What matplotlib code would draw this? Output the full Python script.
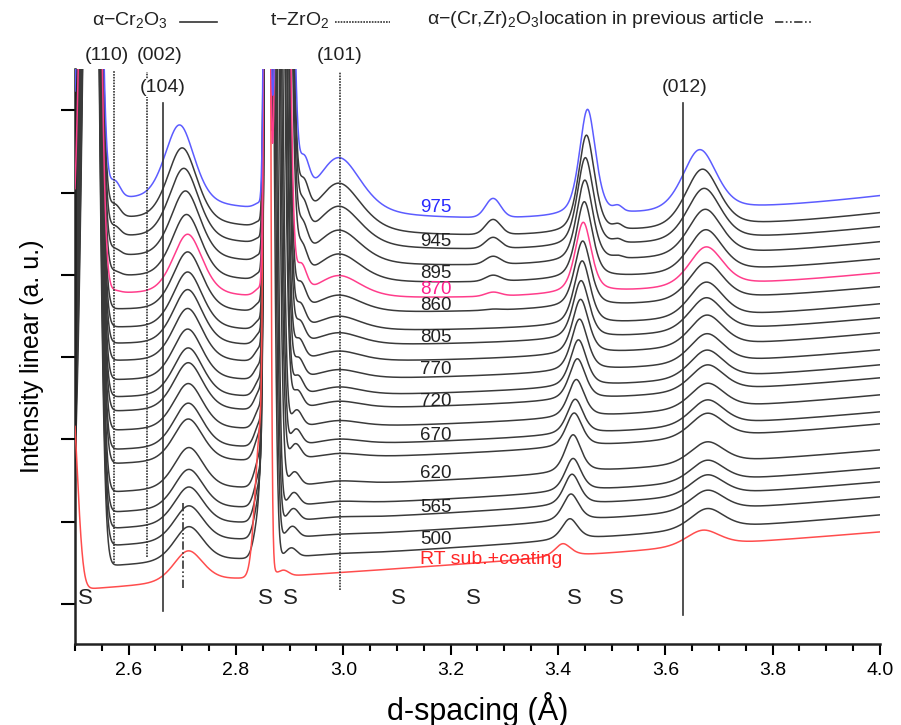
import numpy as np
import matplotlib.pyplot as plt
from matplotlib.lines import Line2D

plt.rcParams["font.family"] = ["Liberation Sans", "DejaVu Sans"]
plt.rcParams["mathtext.fontset"] = "custom"
plt.rcParams["mathtext.rm"] = "Liberation Sans"
plt.rcParams["mathtext.it"] = "Liberation Sans:italic"

# 22 scans, index 0 = RT (bottom) ... 21 = 975 C (top); intensity in a.u.
# baseline level read at d = 2.62, 3.20 and 4.00
base_v = [58, 79, 99, 116, 132, 152, 180, 194, 213, 232, 246, 263, 282, 299, 315, 333, 349, 366, 386, 405, 423, 442]
base_m = [79, 96, 115, 131, 145, 164, 190, 203, 220, 238, 251, 267, 284, 300, 314, 332, 346, 361, 378, 394, 408, 425]
base_r = [112, 129, 147, 162, 176, 194, 220, 232, 249, 266, 279, 294, 311, 326, 340, 357, 371, 385, 402, 417, 431, 448]

# substrate peaks
s1_pos = [2.493] + [2.532] * 21
s1_h = [200] + [1000] * 21
s2_pos = [2.858, 2.862, 2.864, 2.866, 2.868, 2.870, 2.872, 2.874, 2.876, 2.878, 2.879,
          2.881, 2.882, 2.884, 2.885, 2.886, 2.887, 2.888, 2.889, 2.890, 2.890, 2.891]
s2_wid = [0.004, 0.007, 0.007, 0.007, 0.007, 0.008, 0.008, 0.008, 0.008, 0.009, 0.009,
          0.009, 0.009, 0.009, 0.009, 0.009, 0.009, 0.010, 0.010, 0.010, 0.010, 0.010]
s2_foot = [150, 50, 45, 40, 36, 32, 28, 25, 22, 20, 18, 16, 14, 12, 10, 9, 8, 7, 6, 5, 5, 5]
s2b_pos = [2.888, 2.903, 2.905, 2.907, 2.908, 2.909, 2.911, 2.912, 2.913, 2.914, 2.915,
           2.916, 2.917, 2.918, 2.919, 2.920, 2.921, 2.922, 2.923, 2.924, 2.925, 2.926]
s2b_h = [6, 9, 11, 12, 13, 14, 15, 16, 17, 18, 19, 20, 21, 22, 24, 26, 28, 30, 32, 34, 36, 38]
s3_pos = [3.409, 3.422, 3.424, 3.426, 3.428, 3.428, 3.430, 3.432, 3.434, 3.436, 3.438,
          3.440, 3.442, 3.443, 3.445, 3.446, 3.447, 3.449, 3.450, 3.451, 3.453, 3.455]
s3_h = [13, 21, 27, 31, 33, 38, 34, 35, 38, 41, 47, 52, 55, 58, 64, 66, 71, 77, 82, 89, 98, 107]
s351_h = [0] * 18 + [2, 3, 4, 5]

# coating peaks
h110 = [0] * 16 + [2, 4, 6, 9, 12, 16]
p104 = [2.711, 2.712, 2.712, 2.712, 2.712, 2.712, 2.711, 2.711, 2.711, 2.711, 2.711,
        2.710, 2.710, 2.710, 2.710, 2.710, 2.710, 2.708, 2.706, 2.703, 2.700, 2.695]
h104 = [32, 36, 37, 39, 41, 43, 44, 46, 47, 49, 50, 52, 54, 56, 58, 60, 62, 65, 69, 73, 76, 80]
h101 = [0, 1, 1, 2, 3, 4, 5, 6, 7, 8, 9, 10, 11, 13, 15, 18, 23, 29, 35, 42, 50, 58]
h328 = [0] * 15 + [1, 4, 6, 8, 11, 15, 19]
p367 = [3.670, 3.678, 3.678, 3.678, 3.678, 3.678, 3.678, 3.678, 3.678, 3.678, 3.677,
        3.677, 3.677, 3.676, 3.676, 3.676, 3.676, 3.675, 3.674, 3.672, 3.669, 3.664]
h367 = [16, 21, 21, 21, 22, 22, 25, 26, 26, 27, 29, 30, 32, 34, 36, 38, 40, 43, 47, 53, 59, 62]

labels = ["975", "945", "895", "870", "860", "805", "770", "720", "670", "620", "565", "500", "RT sub.+coating"]
label_y = [436, 403, 371, 354, 338, 307, 274, 242, 209, 171, 136, 104, 84]
label_size = [13.5] * 12 + [14]
label_col = ["#2a2aff", "#222222", "#222222", "#ff1f8f", "#222222", "#222222", "#222222",
             "#222222", "#222222", "#222222", "#222222", "#222222", "#ff2626"]

# reference reflections
ref_d = [2.5733, 2.6348, 2.6646, 2.9938, 3.6334, 2.7018]
ref_top = [574, 572, 541, 572, 541, 141]
ref_bot = [81, 87, 33, 54, 29, 56]
ref_kind = ["zr", "zr", "cr", "zr", "cr", "crzr"]
hkl = ["(110)", "(002)", "(104)", "(101)", "(012)"]
hkl_d = [2.5596, 2.6584, 2.664, 2.9938, 3.6366]
hkl_y = [589, 589, 556, 589, 556]

s_marks = [2.519, 2.854, 2.901, 3.102, 3.243, 3.430, 3.508]

styles = {"cr": "-", "zr": (0, (1, 0.7)), "crzr": (0, (5, 1.5, 1, 1.5, 1, 1.5))}


def gauss(x, c, s):
    return np.exp(-0.5 * ((x - c) / s) ** 2)


def split_gauss(x, c, sl, sr):
    s = np.where(x < c, sl, sr)
    return np.exp(-0.5 * ((x - c) / s) ** 2)


def pvoigt(x, c, fwhm, eta):
    lor = 1.0 / (1.0 + ((x - c) / (fwhm / 2)) ** 2)
    gau = np.exp(-4 * np.log(2) * ((x - c) / fwhm) ** 2)
    return eta * lor + (1 - eta) * gau


d = np.linspace(2.5, 4.0, 3001)


def scan(i):
    coef = np.polyfit([2.62, 3.2, 4.0], [base_v[i], base_m[i], base_r[i]], 2)
    y = np.polyval(coef, d)
    y += s1_h[i] * split_gauss(d, s1_pos[i], 0.015, 0.011)
    y += 1000 * gauss(d, 2.858, 0.004)
    y += 1000 * gauss(d, s2_pos[i], s2_wid[i])
    y += s2_foot[i] * gauss(d, 2.846, 0.010)
    y += s2b_h[i] * gauss(d, s2b_pos[i], 0.010)
    y += s3_h[i] * pvoigt(d, s3_pos[i], 0.036, 0.5)
    y += s351_h[i] * gauss(d, 3.512, 0.008)
    y += h110[i] * gauss(d, 2.574, 0.010)
    y += h104[i] * pvoigt(d, p104[i], 0.066, 0.4)
    y += h101[i] * pvoigt(d, 2.992, 0.100, 0.5)
    y += h328[i] * gauss(d, 3.279, 0.014)
    y += h367[i] * pvoigt(d, p367[i], 0.075, 0.4)
    return y


fig = plt.figure(figsize=(9.01, 7.25), dpi=100)
ax = fig.add_axes([75 / 901, 1 - 644 / 725, 805 / 901, 575 / 725])

for i in range(22):
    if i == 0:
        col, z = "#ff4d4d", 3
    elif i == 16:
        col, z = "#ff3d8b", 3
    elif i == 21:
        col, z = "#5c5cff", 3
    else:
        col, z = "#3a3a3a", 2
    ax.plot(d, scan(i), color=col, lw=1.1, zorder=z)

for x, top, bot, k in zip(ref_d, ref_top, ref_bot, ref_kind):
    ax.plot([x, x], [bot, top], color="#333333", lw=1.2, ls=styles[k], zorder=4, clip_on=False)

for t, x, y in zip(hkl, hkl_d, hkl_y):
    ax.text(x, y, t, fontsize=14, ha="center", va="center", color="#222222", zorder=5,
            clip_on=False, bbox=dict(facecolor="white", edgecolor="none", pad=0.5))

for t, y, c, fs in zip(labels, label_y, label_col, label_size):
    ax.text(3.1428, y, t, fontsize=fs, ha="left", va="center", color=c, zorder=5)

for x in s_marks:
    ax.text(x, 46, "S", fontsize=16, ha="center", va="center", color="#222222")

ax.set_xlim(2.5, 4.0)
ax.set_ylim(0, 575)
ax.set_xticks([2.6, 2.8, 3.0, 3.2, 3.4, 3.6, 3.8, 4.0])
ax.set_xticklabels(["2.6", "2.8", "3.0", "3.2", "3.4", "3.6", "3.8", "4.0"])
ax.set_xticks(np.arange(2.5, 4.001, 0.05), minor=True)
ax.set_yticks(np.arange(40, 575, 82.3))
ax.set_yticklabels([])
ax.tick_params(axis="x", which="major", length=8, width=1.5, direction="out", labelsize=14, pad=5)
ax.tick_params(axis="x", which="minor", length=5, width=1.5, direction="out")
ax.tick_params(axis="y", which="major", length=10, width=1.5, direction="out")
for side in ["top", "right"]:
    ax.spines[side].set_visible(False)
for side in ["left", "bottom"]:
    ax.spines[side].set_linewidth(1.8)
    ax.spines[side].set_color("#222222")

ax.set_xlabel("d-spacing (Å)", fontsize=22, labelpad=9)
ax.set_ylabel("Intensity linear (a. u.)", fontsize=18, labelpad=9)

# legend row above the plot
fig.text(92 / 901, 1 - 20 / 725, "α−Cr$_2$O$_3$", fontsize=14, va="center", color="#222222")
fig.text(270 / 901, 1 - 20 / 725, "t−ZrO$_2$", fontsize=14, va="center", color="#222222")
fig.text(427 / 901, 1 - 20 / 725, "α−(Cr,Zr)$_2$O$_3$location in previous article", fontsize=14,
         va="center", color="#222222")
for x0, x1, k in [(180, 217, "cr"), (335, 390, "zr"), (775, 813, "crzr")]:
    fig.add_artist(Line2D([x0 / 901, x1 / 901], [1 - 22 / 725] * 2, transform=fig.transFigure,
                          color="#333333", lw=1.2, ls=styles[k]))

fig.savefig("out.png", dpi=100)
